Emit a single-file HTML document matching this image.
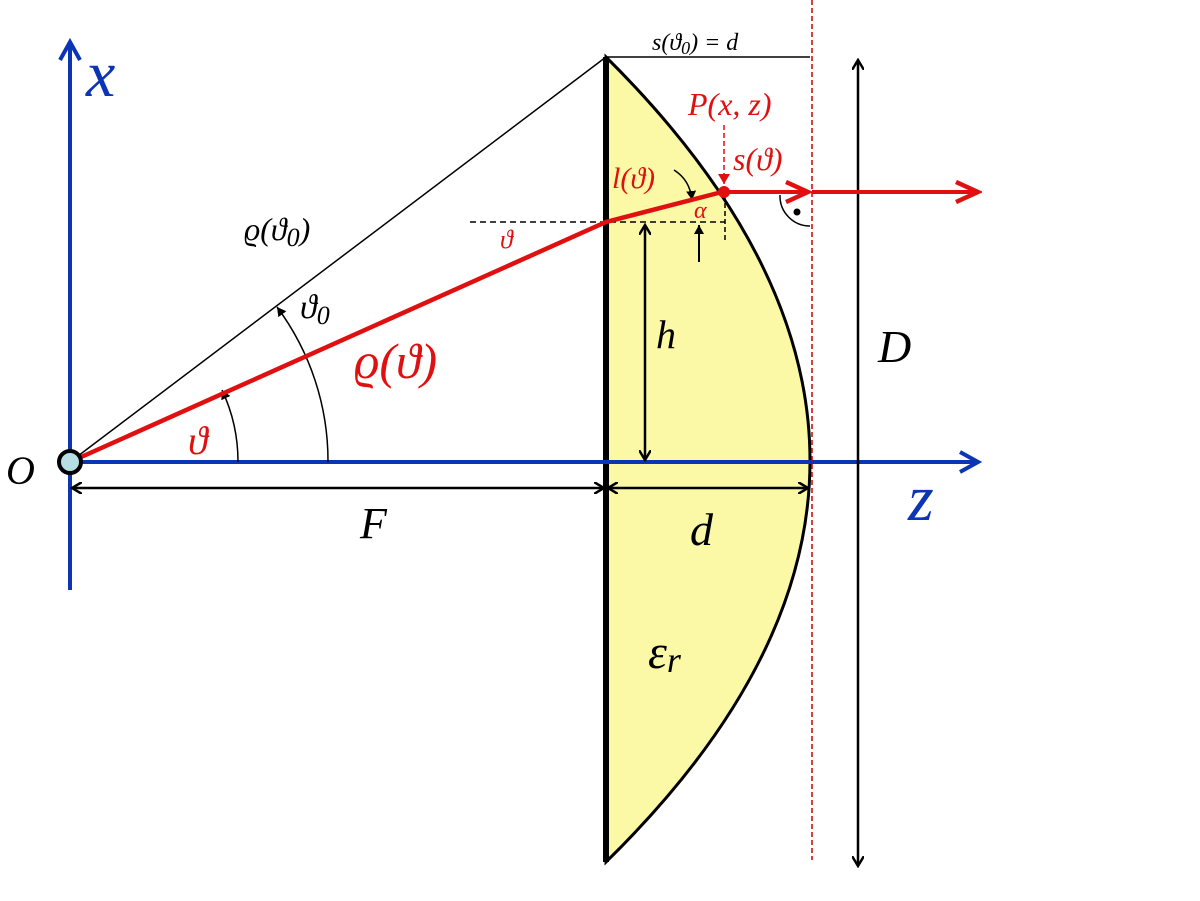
<!DOCTYPE html>
<html><head><style>body{margin:0;background:#fff}svg{display:block}text{font-family:"Liberation Serif",serif;font-style:italic}</style></head><body>
<svg width="1200" height="901" viewBox="0 0 1200 901" xmlns="http://www.w3.org/2000/svg">
<defs>
<marker id="ab" markerWidth="12" markerHeight="12" refX="10" refY="6" orient="auto-start-reverse" markerUnits="userSpaceOnUse"><path d="M0,0 L10,6 L0,12" fill="none" stroke="#000" stroke-width="2.5"/></marker>
<marker id="as" markerWidth="10" markerHeight="10" refX="9" refY="5" orient="auto" markerUnits="userSpaceOnUse"><path d="M0,0 L9,5 L0,10 Z" fill="#000"/></marker>
<marker id="ablue" markerWidth="24" markerHeight="24" refX="20" refY="12" orient="auto" markerUnits="userSpaceOnUse"><path d="M2,2 L20,12 L2,22" fill="none" stroke="#0b35b5" stroke-width="4"/></marker>
<marker id="ared" markerWidth="28" markerHeight="24" refX="24" refY="12" orient="auto" markerUnits="userSpaceOnUse"><path d="M2,2 L24,12 L2,22" fill="none" stroke="#e01010" stroke-width="4.5"/></marker>
<marker id="ars" markerWidth="12" markerHeight="12" refX="10" refY="6" orient="auto" markerUnits="userSpaceOnUse"><path d="M0,0 L10,6 L0,12 Z" fill="#e01010"/></marker>
</defs>
<path d="M606,57 Q1014,462 606,862 Z" fill="#fbf8a6" stroke="#000" stroke-width="3"/>
<line x1="606" y1="57" x2="606" y2="862" stroke="#000" stroke-width="6"/>
<line x1="70" y1="590" x2="70" y2="42" stroke="#0b35b5" stroke-width="4" marker-end="url(#ablue)"/>
<line x1="70" y1="462" x2="978" y2="462" stroke="#0b35b5" stroke-width="4" marker-end="url(#ablue)"/>
<line x1="70" y1="462" x2="606" y2="57" stroke="#000" stroke-width="1.5"/>
<line x1="606" y1="57" x2="810" y2="57" stroke="#000" stroke-width="1.5"/>
<line x1="812" y1="0" x2="812" y2="860" stroke="#c00" stroke-width="1.5" stroke-dasharray="5,3"/>
<line x1="858" y1="60" x2="858" y2="866" stroke="#000" stroke-width="2.5" marker-start="url(#ab)" marker-end="url(#ab)"/>
<line x1="72" y1="488" x2="604" y2="488" stroke="#000" stroke-width="2.5" marker-start="url(#ab)" marker-end="url(#ab)"/>
<line x1="608" y1="488" x2="808" y2="488" stroke="#000" stroke-width="2.5" marker-start="url(#ab)" marker-end="url(#ab)"/>
<line x1="645" y1="225" x2="645" y2="460" stroke="#000" stroke-width="2.5" marker-start="url(#ab)" marker-end="url(#ab)"/>
<line x1="470" y1="222" x2="725" y2="222" stroke="#000" stroke-width="1.5" stroke-dasharray="6,4"/>
<line x1="725" y1="195" x2="725" y2="242" stroke="#000" stroke-width="1.5" stroke-dasharray="5,3"/>
<line x1="699" y1="262" x2="699" y2="225" stroke="#000" stroke-width="2" marker-end="url(#as)"/>
<path d="M674,170 Q690,180 692,200" fill="none" stroke="#000" stroke-width="1.5" marker-end="url(#as)"/>
<path d="M780,195 A30,30 0 0 0 810,226" fill="none" stroke="#000" stroke-width="1.5"/>
<circle cx="797" cy="212" r="3.5" fill="#000"/>
<path d="M238,462 A168,168 0 0 0 222,390" fill="none" stroke="#000" stroke-width="1.5" marker-end="url(#as)"/>
<path d="M328,462 A258,258 0 0 0 277,307" fill="none" stroke="#000" stroke-width="1.5" marker-end="url(#as)"/>
<polyline points="70,462 606,222 722,192" fill="none" stroke="#e01010" stroke-width="4.5"/>
<line x1="722" y1="192" x2="808" y2="192" stroke="#e01010" stroke-width="4" marker-end="url(#ared)"/>
<line x1="812" y1="192" x2="978" y2="192" stroke="#e01010" stroke-width="4" marker-end="url(#ared)"/>
<circle cx="724" cy="192" r="6" fill="#e01010"/>
<line x1="724" y1="125" x2="724" y2="184" stroke="#e01010" stroke-width="1.5" stroke-dasharray="5,3" marker-end="url(#ars)"/>
<circle cx="70" cy="462" r="11" fill="#b5dfe3" stroke="#000" stroke-width="4"/>
<text x="86" y="96" font-size="66" fill="#0b35b5">x</text>
<text x="908" y="520" font-size="66" fill="#0b35b5">z</text>
<text x="6" y="484" font-size="40">O</text>
<text x="360" y="538" font-size="44">F</text>
<text x="690" y="545" font-size="46">d</text>
<text x="878" y="362" font-size="46">D</text>
<text x="656" y="348" font-size="40">h</text>
<text x="648" y="668" font-size="48">ε<tspan font-size="36" dy="4">r</tspan></text>
<text x="244" y="240" font-size="32" font-style="normal">ϱ(ϑ<tspan font-size="26" dy="6">0</tspan><tspan dy="-6">)</tspan></text>
<text x="300" y="318" font-size="34" font-style="normal">ϑ<tspan font-size="26" dy="6">0</tspan></text>
<text x="354" y="378" font-size="50" fill="#e01010" font-style="normal">ϱ(ϑ)</text>
<text x="188" y="454" font-size="40" fill="#e01010">ϑ</text>
<text x="500" y="248" font-size="26" fill="#e01010">ϑ</text>
<text x="612" y="188" font-size="30" fill="#e01010">l(ϑ)</text>
<text x="694" y="218" font-size="24" fill="#e01010">α</text>
<text x="688" y="115" font-size="32" fill="#e01010">P(x, z)</text>
<text x="733" y="170" font-size="32" fill="#e01010">s(ϑ)</text>
<text x="652" y="50" font-size="24" font-style="normal">s(ϑ<tspan font-size="18" dy="4">0</tspan><tspan dy="-4">) = d</tspan></text>
</svg>
</body></html>
